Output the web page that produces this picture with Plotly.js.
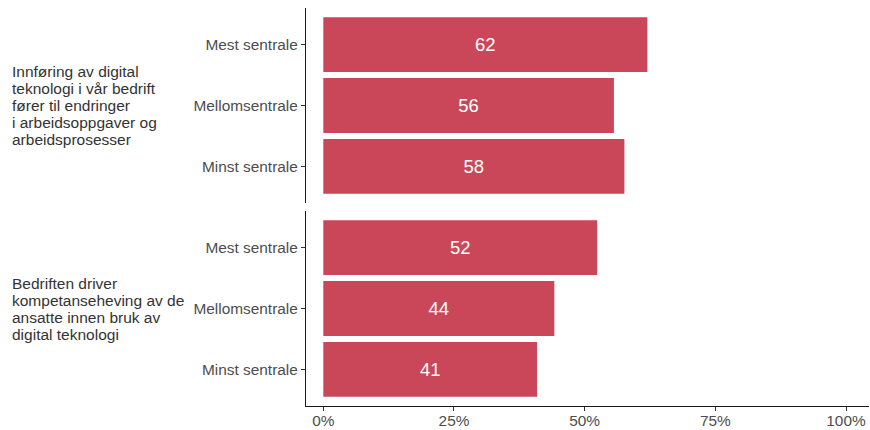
<!DOCTYPE html>
<html>
<head>
<meta charset="utf-8">
<script src="https://cdn.plot.ly/plotly-3.0.1.min.js"></script>
<style>
  html, body { margin: 0; padding: 0; background: #ffffff; }
  #chart { width: 870px; height: 430px; }
</style>
</head>
<body>
<div id="chart"></div>
<script>
// Categories (top to bottom within each panel)
const categories = ["Mest sentrale", "Mellomsentrale", "Minst sentrale"];

// Panel (facet) labels, one entry per text line
const groupLabel1 = [
  "Innføring av digital",
  "teknologi i vår bedrift",
  "fører til endringer",
  "i arbeidsoppgaver og",
  "arbeidsprosesser"
];
const groupLabel2 = [
  "Bedriften driver",
  "kompetanseheving av de",
  "ansatte innen bruk av",
  "digital teknologi"
];

// Percent values
const valuesGroup1 = [62.0, 55.6, 57.6];
const valuesGroup2 = [52.4, 44.2, 40.9];

// Bar labels as shown
const labelsGroup1 = ["62", "56", "58"];
const labelsGroup2 = ["52", "44", "41"];

// X tick values/labels
const xTickVals = [0, 25, 50, 75, 100];
const xTickText = ["0%", "25%", "50%", "75%", "100%"];

const barColor = "#C94759";
const fontFam = "Liberation Sans, Arial, sans-serif";

const traceCommon = {
  type: "bar",
  orientation: "h",
  marker: { color: barColor },
  textposition: "inside",
  insidetextanchor: "middle",
  textangle: 0,
  textfont: { color: "#ffffff", size: 18.5, family: fontFam },
  hoverinfo: "none",
  showlegend: false
};

const traces = [
  Object.assign({}, traceCommon, {
    x: valuesGroup1, y: categories, text: labelsGroup1,
    xaxis: "x", yaxis: "y"
  }),
  Object.assign({}, traceCommon, {
    x: valuesGroup2, y: categories, text: labelsGroup2,
    xaxis: "x", yaxis: "y2"
  })
];

const W = 870, H = 430;
const mL = 306, mR = 1, mT = 8, mB = 24;
const plotW = W - mL - mR;
const plotH = H - mT - mB;
const panelGapPx = 8;
const panelH = (plotH - panelGapPx) / 2;
const d1 = [(panelH + panelGapPx) / plotH, 1];
const d2 = [0, panelH / plotH];

const yCommon = {
  type: "category",
  categoryorder: "array",
  categoryarray: categories,
  range: [2.6, -0.6],
  showline: true,
  linecolor: "#1a1a1a",
  linewidth: 1.1,
  ticks: "outside",
  ticklen: 4,
  tickwidth: 1,
  tickcolor: "#333333",
  showgrid: false,
  zeroline: false,
  tickfont: { family: fontFam, size: 15.4, color: "#4D4D4D" },
  ticklabelstandoff: 0,
  fixedrange: true
};

// Build strip-label annotations, one per line, centred on each panel
const lineStep = 17; // px between lines
function stripAnnots(lines, domain) {
  const centerPx = mT + plotH * (1 - (domain[0] + domain[1]) / 2);
  const n = lines.length;
  return lines.map((t, i) => {
    const yPx = centerPx + (i - (n - 1) / 2) * lineStep;
    return {
      text: t,
      xref: "paper", yref: "paper",
      x: (10 - mL) / plotW, xanchor: "left",
      y: 1 - (yPx - mT) / plotH, yanchor: "middle",
      align: "left", showarrow: false,
      font: { family: fontFam, size: 15.5, color: "#333333" }
    };
  });
}

const layout = {
  width: W,
  height: H,
  margin: { l: mL, r: mR, t: mT, b: mB, pad: 0 },
  paper_bgcolor: "#ffffff",
  plot_bgcolor: "#ffffff",
  bargap: 0.1,
  font: { family: fontFam },
  xaxis: {
    range: [-3.31, 104.4],
    anchor: "y2",
    tickvals: xTickVals,
    ticktext: xTickText,
    showline: true,
    linecolor: "#1a1a1a",
    linewidth: 1.1,
    ticks: "outside",
    ticklen: 4,
    tickwidth: 1,
    tickcolor: "#333333",
    showgrid: false,
    zeroline: false,
    tickfont: { family: fontFam, size: 15.4, color: "#4D4D4D" },
    ticklabelstandoff: -4,
    fixedrange: true
  },
  yaxis: Object.assign({}, yCommon, { domain: d1, anchor: "x" }),
  yaxis2: Object.assign({}, yCommon, { domain: d2, anchor: "x" }),
  annotations: stripAnnots(groupLabel1, d1).concat(stripAnnots(groupLabel2, d2))
};

Plotly.newPlot("chart", traces, layout, { displayModeBar: false, staticPlot: true });
</script>
</body>
</html>
